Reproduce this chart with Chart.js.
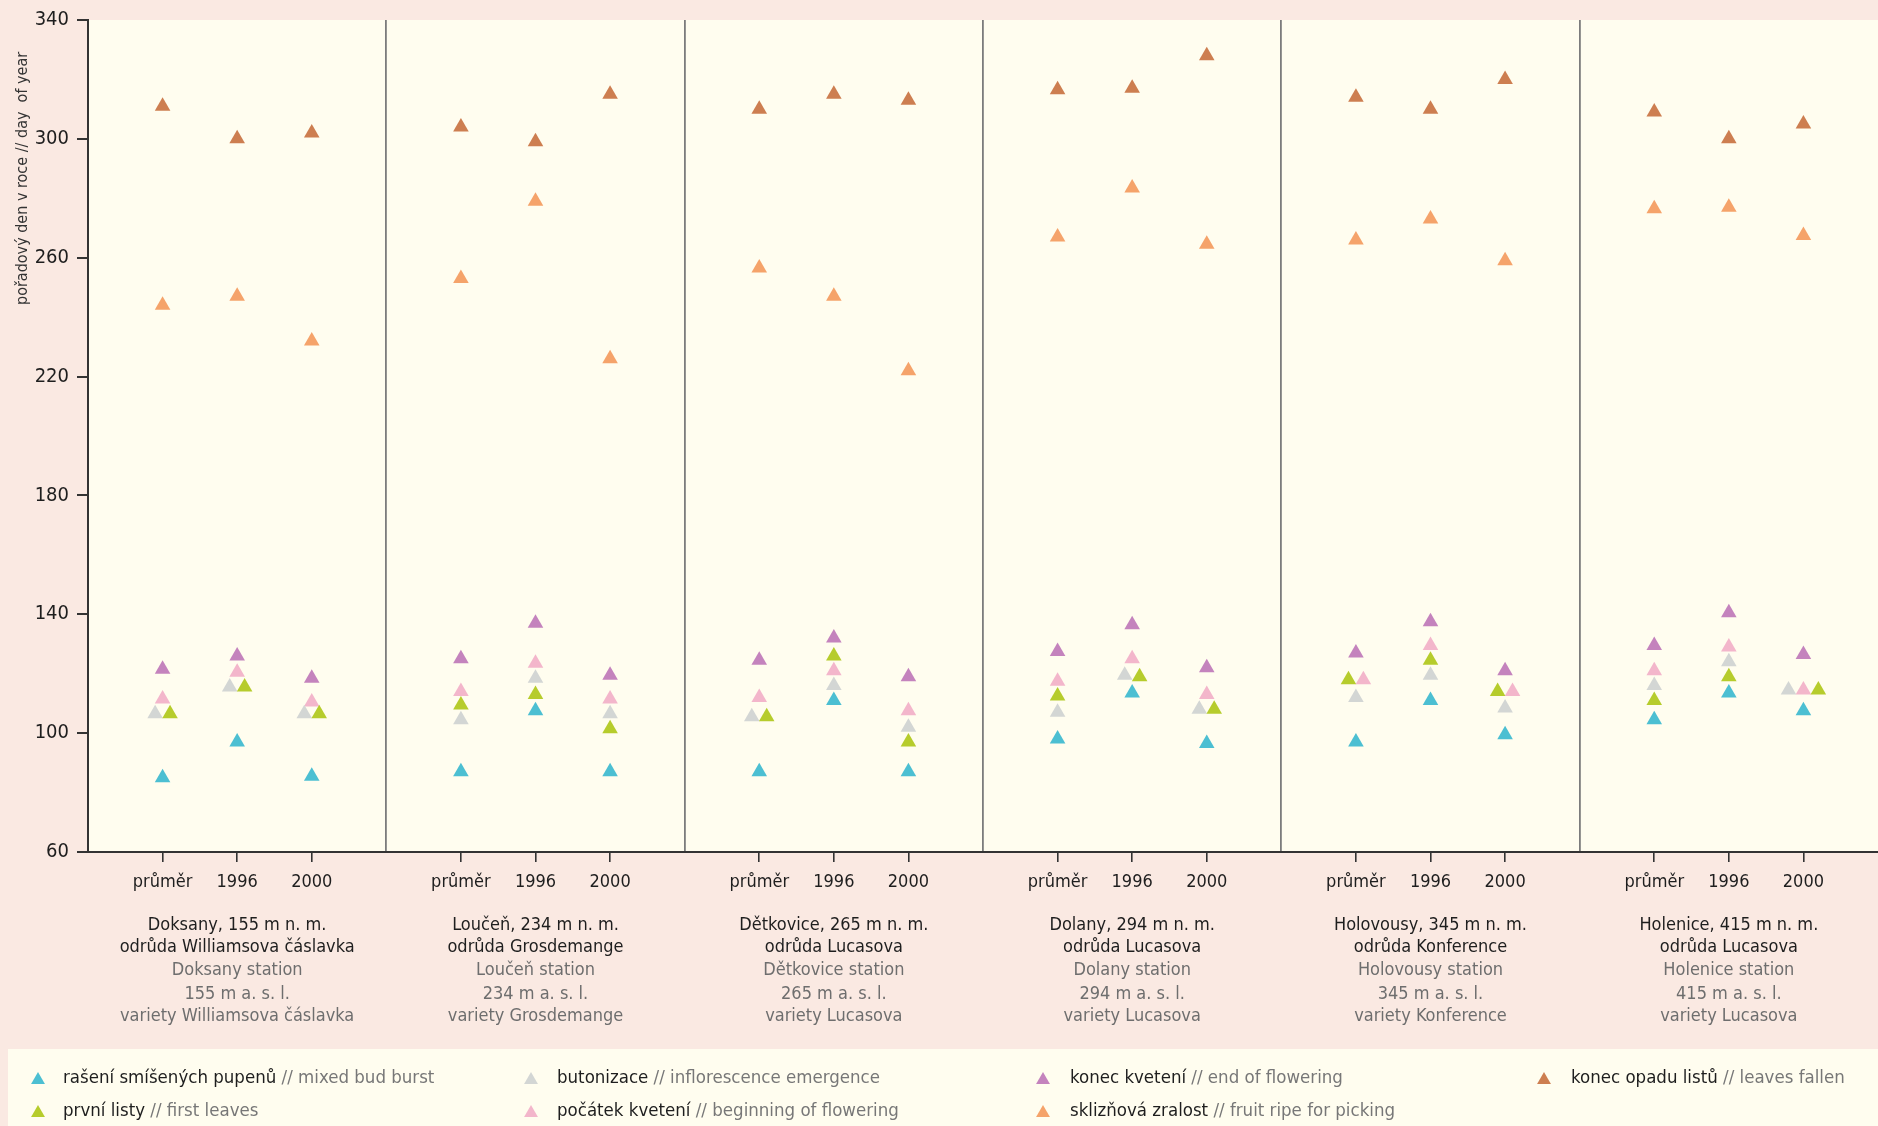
<!DOCTYPE html>
<html>
<head>
<meta charset="utf-8">
<script src="https://cdn.jsdelivr.net/npm/chart.js@4/dist/chart.umd.min.js"></script>
<style>
  html, body { margin: 0; padding: 0; background: #FAE9E2; }
  #wrap { width: 1878px; height: 1126px; }
  canvas { display: block; }
</style>
</head>
<body>
<div id="wrap"><canvas id="c" width="1878" height="1126"></canvas></div>
<script>
// ---------- DATA ----------
const periodLabels = ['průměr', '1996', '2000'];
const stationLineCz1 = ['Doksany, 155 m n. m.', 'Loučeň, 234 m n. m.', 'Dětkovice, 265 m n. m.', 'Dolany, 294 m n. m.', 'Holovousy, 345 m n. m.', 'Holenice, 415 m n. m.'];
const stationLineCz2 = ['odrůda Williamsova čáslavka', 'odrůda Grosdemange', 'odrůda Lucasova', 'odrůda Lucasova', 'odrůda Konference', 'odrůda Lucasova'];
const stationLineEn1 = ['Doksany station', 'Loučeň station', 'Dětkovice station', 'Dolany station', 'Holovousy station', 'Holenice station'];
const stationLineEn2 = ['155 m a. s. l.', '234 m a. s. l.', '265 m a. s. l.', '294 m a. s. l.', '345 m a. s. l.', '415 m a. s. l.'];
const stationLineEn3 = ['variety Williamsova čáslavka', 'variety Grosdemange', 'variety Lucasova', 'variety Lucasova', 'variety Konference', 'variety Lucasova'];

const yTicks = [60, 100, 140, 180, 220, 260, 300, 340];

// day of year, per station: průměr, 1996, 2000
const budBurst       = [85, 97, 85.5,   87, 107.5, 87,   87, 111, 87,   98, 113.5, 96.5,   97, 111, 99.5,   104.5, 113.5, 107.5];
const firstLeaves    = [106.5, 115.5, 106.5,   109.5, 113, 101.5,   105.5, 126, 97,   112.5, 119, 108,   118, 124.5, 114,   111, 119, 114.5];
const inflorescence  = [106.5, 115.5, 106.5,   104.5, 118.5, 106.5,   105.5, 116, 102,   107, 119.5, 108,   112, 119.5, 108.5,   116, 124, 114.5];
const beginFlowering = [111.5, 120.5, 110.5,   114, 123.5, 111.5,   112, 121, 107.5,   117.5, 125, 113,   118, 129.5, 114,   121, 129, 114.5];
const endFlowering   = [121.5, 126, 118.5,   125, 137, 119.5,   124.5, 132, 119,   127.5, 136.5, 122,   127, 137.5, 121,   129.5, 140.5, 126.5];
const fruitRipe      = [244, 247, 232,   253, 279, 226,   256.5, 247, 222,   267, 283.5, 264.5,   266, 273, 259,   276.5, 277, 267.5];
const leavesFallen   = [311, 300, 302,   304, 299, 315,   310, 315, 313,   316.5, 317, 328,   314, 310, 320,   309, 300, 305];

// side-by-side placement of coinciding markers (in marker widths)
const dodgeFirstLeaves    = [0.5, 0.5, 0.5,  0, 0, 0,  0.5, 0, 0,  0, 0.5, 0.5,  -0.5, 0, -0.5,  0, 0, 1];
const dodgeInflorescence  = [-0.5, -0.5, -0.5,  0, 0, 0,  -0.5, 0, 0,  0, -0.5, -0.5,  0, 0, 0,  0, 0, -1];
const dodgeBeginFlowering = [0, 0, 0,  0, 0, 0,  0, 0, 0,  0, 0, 0,  0.5, 0, 0.5,  0, 0, 0];

const seriesNamesCz = ['rašení smíšených pupenů', 'první listy', 'butonizace', 'počátek kvetení', 'konec kvetení', 'sklizňová zralost', 'konec opadu listů'];
const seriesNamesEn = ['mixed bud burst', 'first leaves', 'inflorescence emergence', 'beginning of flowering', 'end of flowering', 'fruit ripe for picking', 'leaves fallen'];

// ---------- STYLE ----------
const FONT = '"Liberation Sans Narrow", "Arial Narrow", "DejaVu Sans Condensed", sans-serif';
const colors = ['#4CBFD2', '#B6CC2C', '#D3D6D4', '#F3B6CB', '#C483BD', '#F5A36A', '#CD7E50'];
const BG_OUT = '#FAE9E2';
const BG_IN = '#FFFDEF';
const MARKER_W = 0.2;     // marker width in x units
const PER = 4;            // x units per station panel

const seriesValues = [budBurst, firstLeaves, inflorescence, beginFlowering, endFlowering, fruitRipe, leavesFallen];
const seriesDodge = [null, dodgeFirstLeaves, dodgeInflorescence, dodgeBeginFlowering, null, null, null];

const nStations = stationLineCz1.length;
const X_MAX = nStations * PER;

function pts(vals, dodge) {
  return vals.map((v, k) => {
    const s = Math.floor(k / 3), p = k % 3;
    const d = dodge ? dodge[k] : 0;
    return { x: s * PER + 1 + p + d * MARKER_W, y: v };
  });
}

const datasets = seriesValues.map((vals, i) => ({
  label: seriesNamesCz[i] + ' // ' + seriesNamesEn[i],
  data: pts(vals, seriesDodge[i]),
  pointStyle: 'triangle',
  pointRadius: 9,
  pointHoverRadius: 9,
  backgroundColor: colors[i],
  borderColor: colors[i],
  borderWidth: 0,
  showLine: false
}));

const xTickValues = [0];
for (let s = 0; s < nStations; s++) {
  if (s > 0) xTickValues.push(s * PER);
  for (let p = 0; p < 3; p++) xTickValues.push(s * PER + 1 + p);
}
xTickValues.push(X_MAX);

function isSep(v) { return Math.abs(v / PER - Math.round(v / PER)) < 1e-6; }
function isEdge(v) { return Math.abs(v) < 1e-6 || Math.abs(v - X_MAX) < 1e-6; }

const bgPlugin = {
  id: 'bg',
  beforeDraw(chart) {
    const { ctx, chartArea: a } = chart;
    ctx.save();
    ctx.fillStyle = BG_OUT;
    ctx.fillRect(0, 0, chart.width, chart.height);
    ctx.fillStyle = BG_IN;
    ctx.fillRect(a.left, a.top, a.right - a.left, a.bottom - a.top);
    ctx.fillRect(8, 1049, chart.width - 8, chart.height - 1049);
    ctx.restore();
  },
  afterDraw(chart) {
    const { ctx } = chart;
    const xs = chart.scales.x;
    ctx.save();
    // y axis title
    ctx.save();
    ctx.translate(23, 305);
    ctx.rotate(-Math.PI / 2);
    ctx.fillStyle = '#333';
    ctx.font = '16px ' + FONT;
    ctx.textAlign = 'left';
    ctx.textBaseline = 'middle';
    ctx.fillText('pořadový den v roce // day  of year', 0, 0);
    ctx.restore();

    // station labels
    ctx.textAlign = 'center';
    ctx.textBaseline = 'middle';
    ctx.font = '18px ' + FONT;
    const lineY = [925, 947, 970, 994, 1016];
    for (let s = 0; s < nStations; s++) {
      const cx = xs.getPixelForValue(s * PER + 2);
      const lines = [stationLineCz1[s], stationLineCz2[s], stationLineEn1[s], stationLineEn2[s], stationLineEn3[s]];
      lines.forEach((t, j) => {
        ctx.fillStyle = j < 2 ? '#1e1e1e' : '#6e6e6e';
        ctx.fillText(t, cx, lineY[j]);
      });
    }

    // legend
    const cols = [[0, 1], [2, 3], [4, 5], [6]];
    const colMarkerX = [38, 531, 1043, 1544];
    const colTextX = [63, 557, 1070, 1571];
    const rowY = [1078, 1111];
    ctx.textAlign = 'left';
    ctx.font = '18.5px ' + FONT;
    cols.forEach((col, c) => {
      col.forEach((si, r) => {
        const mx = colMarkerX[c], my = rowY[r] + 2;
        const rad = 8;
        ctx.fillStyle = colors[si];
        ctx.beginPath();
        ctx.moveTo(mx, my - rad);
        ctx.lineTo(mx + rad * 0.866, my + rad * 0.5);
        ctx.lineTo(mx - rad * 0.866, my + rad * 0.5);
        ctx.closePath();
        ctx.fill();
        let tx = colTextX[c];
        ctx.fillStyle = '#1e1e1e';
        const t1 = seriesNamesCz[si];
        ctx.fillText(t1, tx, rowY[r]);
        tx += ctx.measureText(t1 + ' ').width;
        ctx.fillStyle = '#777';
        ctx.fillText('// ' + seriesNamesEn[si], tx, rowY[r]);
      });
    });
    ctx.restore();
  }
};

new Chart(document.getElementById('c'), {
  type: 'scatter',
  data: { datasets },
  options: {
    responsive: false,
    devicePixelRatio: 1,
    animation: false,
    events: [],
    layout: { autoPadding: false, padding: { top: 17, right: 0, left: 0, bottom: 0 } },
    plugins: { legend: { display: false }, tooltip: { enabled: false }, title: { display: false } },
    scales: {
      x: {
        type: 'linear',
        min: 0,
        max: X_MAX,
        afterFit(scale) {
          scale.height = 1126 - 852;
          scale.paddingLeft = 0;
          scale.paddingRight = 0;
        },
        afterBuildTicks(scale) { scale.ticks = xTickValues.map(v => ({ value: v })); },
        border: { display: true, color: '#333', width: 2 },
        grid: {
          drawOnChartArea: true,
          drawTicks: true,
          tickLength: 10,
          lineWidth: ctx => (ctx.tick && isSep(ctx.tick.value)) ? 1.8 : 1.6,
          color: ctx => (ctx.tick && isSep(ctx.tick.value) && !isEdge(ctx.tick.value)) ? '#7c7c7c' : 'rgba(0,0,0,0)',
          tickColor: ctx => (ctx.tick && isSep(ctx.tick.value)) ? 'rgba(0,0,0,0)' : '#333'
        },
        ticks: {
          autoSkip: false,
          maxRotation: 0,
          minRotation: 0,
          padding: 0,
          color: '#1e1e1e',
          font: { size: 18, family: FONT, lineHeight: 2.3 },
          callback(v) {
            if (isSep(v)) return '';
            const p = Math.round(v - Math.floor(v / PER) * PER) - 1;
            return periodLabels[p];
          }
        }
      },
      y: {
        type: 'linear',
        min: yTicks[0],
        max: yTicks[yTicks.length - 1],
        afterFit(scale) { scale.width = 88; },
        afterBuildTicks(scale) { scale.ticks = yTicks.map(v => ({ value: v })); },
        border: { display: true, color: '#333', width: 2 },
        grid: { drawOnChartArea: false, drawTicks: true, tickLength: 11, tickColor: '#333', lineWidth: 2 },
        ticks: {
          padding: 8,
          color: '#1e1e1e',
          font: { size: 20, family: FONT }
        }
      }
    }
  },
  plugins: [bgPlugin]
});
</script>
</body>
</html>
